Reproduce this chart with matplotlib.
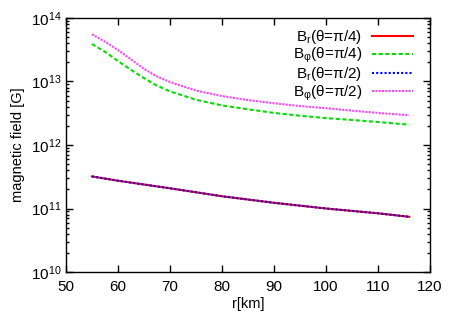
import matplotlib
matplotlib.use("Agg")
import matplotlib.pyplot as plt
from matplotlib.ticker import LogLocator, FixedLocator, NullFormatter

plt.rcParams['font.family'] = ['Liberation Sans', 'DejaVu Sans']
plt.rcParams['mathtext.fontset'] = 'custom'
plt.rcParams['mathtext.rm'] = 'Liberation Sans'
plt.rcParams['mathtext.it'] = 'Liberation Sans:italic'

# Data
r_br = [55, 60, 70, 80, 90, 100, 110, 116]
br_pi4 = [3.2e11, 2.74e11, 2.08e11, 1.56e11, 1.23e11, 1.0e11, 8.4e10, 7.4e10]
br_pi2 = [3.2e11, 2.74e11, 2.08e11, 1.56e11, 1.23e11, 1.0e11, 8.4e10, 7.4e10]

r_bp = [55, 57.5, 60, 62.5, 65, 67.5, 70, 72.5, 75, 80, 85, 90, 95, 100, 105, 110, 116]
bphi_pi4 = [3.9e13, 2.94e13, 2.1e13, 1.53e13, 1.13e13, 8.6e12, 7.0e12, 6.0e12, 5.15e12,
            4.2e12, 3.65e12, 3.2e12, 2.89e12, 2.65e12, 2.48e12, 2.3e12, 2.09e12]
bphi_pi2 = [5.53e13, 4.24e13, 3.13e13, 2.24e13, 1.58e13, 1.2e13, 9.8e12, 8.4e12, 7.2e12,
            5.9e12, 5.1e12, 4.55e12, 4.1e12, 3.8e12, 3.47e12, 3.2e12, 2.94e12]

labels = [r'B$_\mathregular{r}$(θ=π/4)', r'B$_\mathregular{φ}$(θ=π/4)',
          r'B$_\mathregular{r}$(θ=π/2)', r'B$_\mathregular{φ}$(θ=π/2)']
xticks = [50, 60, 70, 80, 90, 100, 110, 120]

fig = plt.figure(figsize=(4.58, 3.21), dpi=100)
ax = fig.add_axes([0.144, 0.1526, 0.795, 0.7914])

lw = 1.5
ax.plot(r_br, br_pi4, color='#ff0000', lw=lw, label=labels[0])
ax.plot(r_bp, bphi_pi4, color='#00e000', lw=lw, dashes=(2, 1.2), label=labels[1])
ax.plot(r_br, br_pi2, color='#0000ff', lw=lw, dashes=(1, 1), label=labels[2])
ax.plot(r_bp, bphi_pi2, color='#ff40ff', lw=lw, dashes=(1, 0.6), label=labels[3])

ax.set_yscale('log')
ax.set_xlim(50, 120)
ax.set_ylim(1e10, 1e14)
ax.xaxis.set_major_locator(FixedLocator(xticks))
ax.yaxis.set_major_locator(LogLocator(base=10, numticks=10))
ax.yaxis.set_minor_locator(LogLocator(base=10, subs=range(2, 10), numticks=50))
ax.yaxis.set_minor_formatter(NullFormatter())

ax.tick_params(which='both', direction='in', top=True, right=True, labelsize=11, width=1.0)
ax.tick_params(which='major', length=5)
ax.tick_params(which='minor', length=2.5)
ax.tick_params(axis='x', pad=6)
for s in ax.spines.values():
    s.set_linewidth(1.0)

ax.set_xlabel('r[km]', fontsize=10.5, labelpad=2)
ax.set_ylabel('magnetic field [G]', fontsize=10.5, labelpad=4)

leg = ax.legend(loc='upper right', frameon=False, markerfirst=False, fontsize=11,
                handlelength=2.7, handletextpad=0.6, labelspacing=0.0,
                borderaxespad=0.0, borderpad=0.0, bbox_to_anchor=(0.953, 0.96))

fig.savefig('out.png', dpi=100)
